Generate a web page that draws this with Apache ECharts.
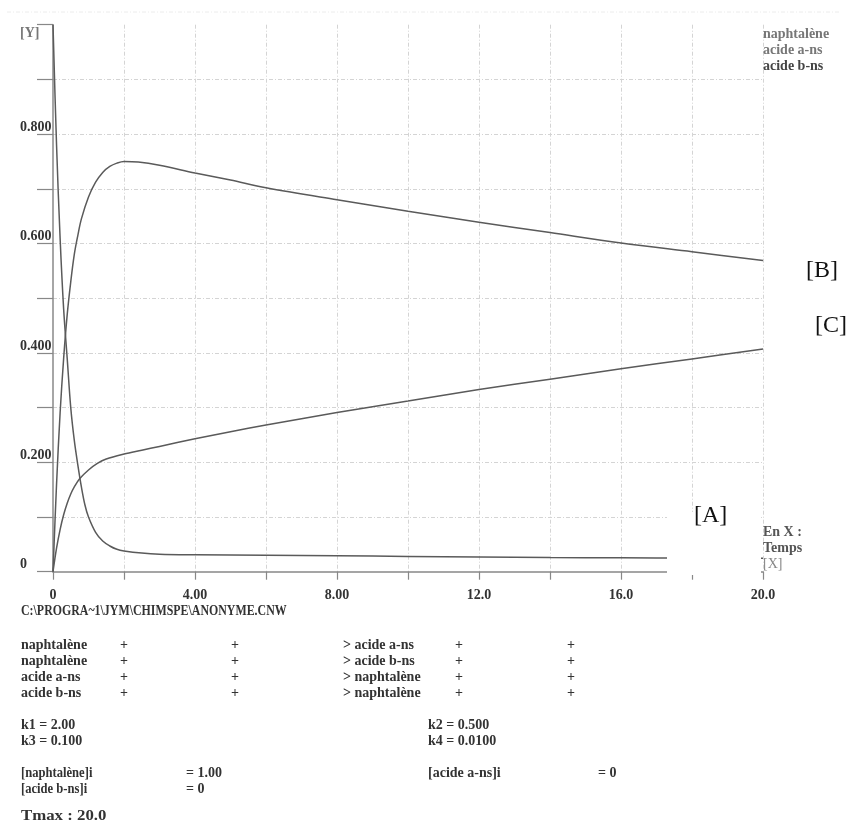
<!DOCTYPE html>
<html>
<head>
<meta charset="utf-8">
<script src="https://cdn.jsdelivr.net/npm/echarts@6/dist/echarts.min.js"></script>
<style>
html,body{margin:0;padding:0;background:#fff;}
#chart{width:850px;height:825px;}
</style>
</head>
<body>
<div id="chart"></div>
<script>
// ---- data ----
var seriesNames = ['naphtalène', 'acide a-ns', 'acide b-ns'];

var tNaph = [0, 0.1, 0.2, 0.3, 0.4, 0.5, 0.6, 0.7, 0.8, 0.9, 1.0, 1.2, 1.4, 1.6, 1.8, 2.0, 2.5, 3, 4, 6, 8, 10, 12, 14, 16, 18, 20];
var vNaph = [1.0, 0.78, 0.61, 0.48, 0.39, 0.30, 0.24, 0.195, 0.155, 0.122, 0.100, 0.072, 0.056, 0.047, 0.041, 0.038, 0.034, 0.032, 0.031, 0.030, 0.029, 0.028, 0.027, 0.026, 0.0255, 0.025, 0.0245];

var tAns = [0, 0.1, 0.2, 0.3, 0.4, 0.5, 0.6, 0.7, 0.8, 1.0, 1.2, 1.4, 1.6, 1.8, 2.0, 2.4, 3, 4, 5, 6, 8, 10, 12, 14, 16, 18, 20];
var vAns = [0, 0.16, 0.29, 0.39, 0.47, 0.53, 0.58, 0.615, 0.645, 0.685, 0.712, 0.730, 0.741, 0.747, 0.750, 0.749, 0.743, 0.729, 0.716, 0.702, 0.680, 0.659, 0.639, 0.620, 0.601, 0.585, 0.569];

var tBns = [0, 0.1, 0.2, 0.3, 0.4, 0.5, 0.6, 0.75, 1.0, 1.25, 1.5, 2, 2.5, 3, 4, 5, 6, 8, 10, 12, 14, 16, 18, 20];
var vBns = [0, 0.043, 0.077, 0.104, 0.125, 0.142, 0.155, 0.170, 0.186, 0.198, 0.206, 0.215, 0.222, 0.229, 0.243, 0.256, 0.268, 0.291, 0.312, 0.333, 0.352, 0.371, 0.389, 0.407];

var xTickLabels = {0: '0', 4: '4.00', 8: '8.00', 12: '12.0', 16: '16.0', 20: '20.0'};
var yTickLabels = {0: '0', 0.2: '0.200', 0.4: '0.400', 0.6: '0.600', 0.8: '0.800'};

var reactionRows = [
  ['naphtalène', '+', '+', '> acide a-ns', '+', '+'],
  ['naphtalène', '+', '+', '> acide b-ns', '+', '+'],
  ['acide a-ns', '+', '+', '> naphtalène', '+', '+'],
  ['acide b-ns', '+', '+', '> naphtalène', '+', '+']
];
var constants = [['k1 = 2.00', 'k2 = 0.500'], ['k3 = 0.100', 'k4 = 0.0100']];
var initials = [['[naphtalène]i', '= 1.00', '[acide a-ns]i', '= 0'], ['[acide b-ns]i', '= 0']];
var filePath = 'C:\\PROGRA~1\\JYM\\CHIMSPE\\ANONYME.CNW';
var tmaxText = 'Tmax : 20.0';

// ---- build ----
function pairs(t, v) { return t.map(function (x, i) { return [x, v[i]]; }); }
var FONT = 'Liberation Serif';
var TXT = '#333';

var chart = echarts.init(document.getElementById('chart'), null, {renderer: 'canvas'});

var graphics = [];
function txt(x, y, s, opt) {
  opt = opt || {};
  var size = opt.size || 14;
  graphics.push({
    type: 'text', x: x, y: y, z: 200,
    scaleX: opt.sx || 1,
    style: {
      text: s, fill: opt.color || TXT, verticalAlign: 'middle', align: 'left',
      font: (opt.weight || 'bold') + ' ' + size + 'px "' + (opt.family || FONT) + '"'
    }
  });
}

// white patch (as in the reference, around [A])
graphics.push({type: 'rect', z: 150, shape: {x: 667, y: 512, width: 94, height: 63}, style: {fill: '#fff'}});
// faint top frame line
graphics.push({type: 'line', z: 1, shape: {x1: 7, y1: 12, x2: 840, y2: 12}, style: {stroke: '#ececec', lineWidth: 1, lineDash: [4, 2, 1, 2]}});

txt(20, 33, '[Y]', {color: '#777', size: 14});
txt(763, 34, 'naphtalène', {color: '#777', size: 14});
txt(763, 50, 'acide a-ns', {color: '#777', size: 14});
txt(763, 66, 'acide b-ns', {color: '#444', size: 14});
txt(763, 532, 'En X :', {color: '#555', size: 14});
txt(763, 548, 'Temps', {color: '#555', size: 14});
txt(763, 564, '[X]', {color: '#888', size: 14, weight: 'normal'});

txt(694, 516, '[A]', {color: '#111', size: 24, weight: 'normal'});
txt(806, 271, '[B]', {color: '#111', size: 24, weight: 'normal'});
txt(815, 326, '[C]', {color: '#111', size: 24, weight: 'normal'});

txt(21, 611, filePath, {sx: 0.85});
var colX = [21, 120, 231, 343, 455, 567];
reactionRows.forEach(function (row, r) {
  row.forEach(function (s, c) { txt(colX[c], 645 + r * 16, s); });
});
constants.forEach(function (row, r) {
  txt(21, 725 + r * 16, row[0]);
  txt(428, 725 + r * 16, row[1]);
});
txt(21, 773, initials[0][0], {sx: 0.9}); txt(186, 773, initials[0][1]);
txt(428, 773, initials[0][2]); txt(598, 773, initials[0][3]);
txt(21, 789, initials[1][0], {sx: 0.9}); txt(186, 789, initials[1][1]);
txt(21, 816, tmaxText, {size: 15, sx: 1.12});

var lineColor = '#5a5a5a';
function mkSeries(name, t, v) {
  return {
    name: name, type: 'line', data: pairs(t, v), showSymbol: false, symbol: 'none',
    smooth: 0.35,
    lineStyle: {color: lineColor, width: 1.5}, z: 5
  };
}

var gridDash = [4, 2, 1, 2];
var option = {
  animation: false,
  backgroundColor: '#fff',
  grid: {left: 53, right: 87, top: 24.7, bottom: 253.3},
  xAxis: {
    type: 'value', min: 0, max: 20, interval: 2,
    axisLine: {show: true, onZero: false, lineStyle: {color: '#888', width: 1.5}},
    axisTick: {show: true, length: 8, lineStyle: {color: '#888', width: 1.2}},
    axisLabel: {
      margin: 17, color: TXT, fontFamily: FONT, fontWeight: 'bold', fontSize: 14,
      formatter: function (v) { return xTickLabels[v] !== undefined ? xTickLabels[v] : ''; }
    },
    splitLine: {show: true, showMinLine: false, showMaxLine: true, lineStyle: {color: '#d4d4d4', width: 1, type: gridDash}}
  },
  yAxis: {
    type: 'value', min: 0, max: 1, interval: 0.1,
    axisLine: {show: true, onZero: false, lineStyle: {color: '#888', width: 1.5}},
    axisTick: {show: true, length: 16, lineStyle: {color: '#888', width: 1.2}},
    axisLabel: {
      margin: 33, align: 'left', verticalAlign: 'bottom',
      color: TXT, fontFamily: FONT, fontWeight: 'bold', fontSize: 14,
      formatter: function (v) {
        var k = Math.round(v * 10) / 10;
        return yTickLabels[k] !== undefined ? yTickLabels[k] : '';
      }
    },
    splitLine: {show: true, showMinLine: false, showMaxLine: false, lineStyle: {color: '#d4d4d4', width: 1, type: gridDash}}
  },
  series: [
    mkSeries(seriesNames[0], tNaph, vNaph),
    mkSeries(seriesNames[1], tAns, vAns),
    mkSeries(seriesNames[2], tBns, vBns)
  ],
  graphic: {elements: graphics}
};
chart.setOption(option);
</script>
</body>
</html>
